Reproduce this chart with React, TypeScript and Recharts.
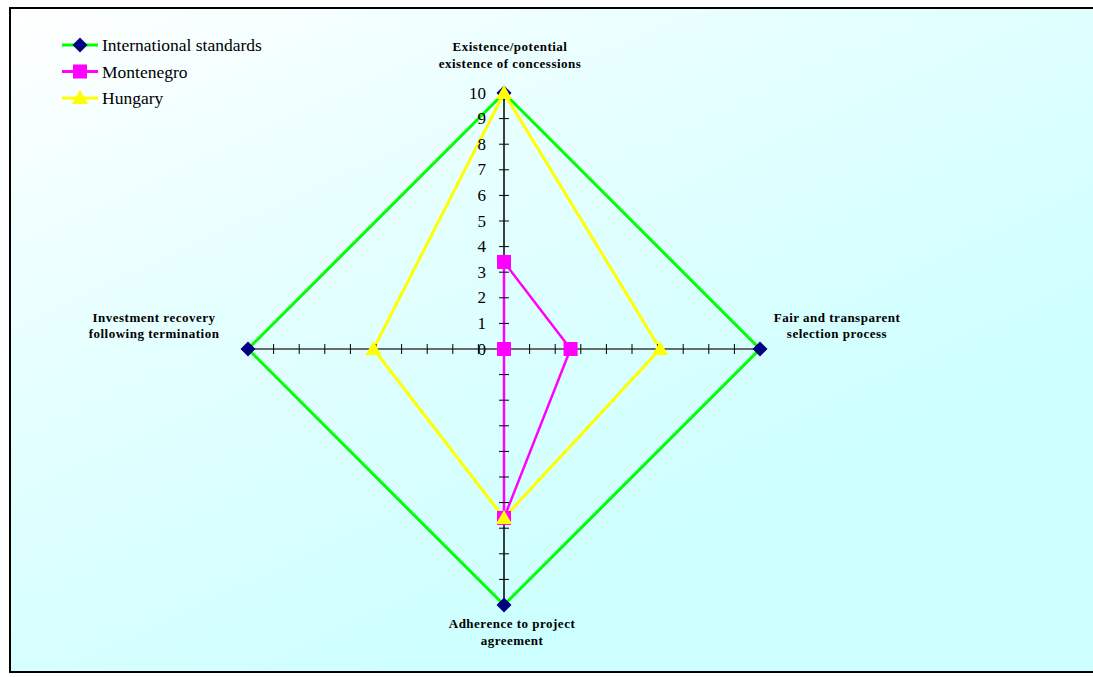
import React from 'react';
import { RadarChart, Radar, PolarAngleAxis, PolarRadiusAxis, PolarGrid, Legend } from 'recharts';

const categories = [
  'Existence/potential existence of concessions',
  'Fair and transparent selection process',
  'Adherence to project agreement',
  'Investment recovery following termination',
];
const categoryLines = [
  ['Existence/potential', 'existence of concessions'],
  ['Fair and transparent', 'selection process'],
  ['Adherence to project', 'agreement'],
  ['Investment recovery', 'following termination'],
];
const internationalStandards = [10, 10, 10, 10];
const montenegro = [3.4, 2.6, 6.6, 0];
const hungary = [10, 6.1, 6.6, 5.1];
const radiusTicks = [0, 1, 2, 3, 4, 5, 6, 7, 8, 9, 10];

const seriesNames = ['International standards', 'Montenegro', 'Hungary'];

const data = categories.map((c, i) => ({
  category: c,
  intl: internationalStandards[i],
  mne: montenegro[i],
  hun: hungary[i],
}));

const SERIF = '"Liberation Serif", "Times New Roman", Times, serif';

const Diamond = (cx: number, cy: number, key?: any) => (
  <polygon key={key} points={`${cx},${cy - 7.5} ${cx + 7.5},${cy} ${cx},${cy + 7.5} ${cx - 7.5},${cy}`} fill="#000080" />
);
const Square = (cx: number, cy: number, key?: any) => (
  <rect key={key} x={cx - 7} y={cy - 7} width={14} height={14} fill="#ff00ff" />
);
const Triangle = (cx: number, cy: number, key?: any) => (
  <polygon key={key} points={`${cx},${cy - 8} ${cx + 8},${cy + 6} ${cx - 8},${cy + 6}`} fill="#ffff00" />
);

const dotOf = (fn: any) => (props: any) => {
  const { cx, cy, index } = props;
  return fn(cx, cy, `d-${index}`);
};

// offsets of the two label lines relative to the angle-axis tick point, per direction
const labelOffsets = [
  { dx: 6, dy: [-39, -22] },
  { dx: 69, dy: [-32, -16] },
  { dx: 8, dy: [10, 27] },
  { dx: -86, dy: [-32, -16] },
];

const AngleTick = (props: any) => {
  const { x, y, index } = props;
  const lines = categoryLines[index] || [];
  const off = labelOffsets[index];
  return (
    <g>
      {lines.map((l: string, i: number) => (
        <text
          key={i}
          x={x + off.dx}
          y={y + off.dy[i]}
          textAnchor="middle"
          dominantBaseline="central"
          style={{ fontFamily: SERIF, fontWeight: 'bold', fontSize: 13, letterSpacing: 0.5 }}
          fill="#000"
        >
          {l}
        </text>
      ))}
    </g>
  );
};

// Labeled ticks on the upward axis; the same scale radius is mirrored onto the other three spokes.
const RadiusTick = (props: any) => {
  const { x, y, cx, cy, payload, index } = props;
  const r = cy - y;
  return (
    <g>
      <line x1={x - 5} x2={x + 5} y1={y} y2={y} stroke="#000" strokeWidth={1} />
      {index > 0 && (
        <>
          <line x1={cx - 5} x2={cx + 5} y1={cy + r} y2={cy + r} stroke="#000" strokeWidth={1} />
          <line x1={cx + r} x2={cx + r} y1={cy - 5} y2={cy + 5} stroke="#000" strokeWidth={1} />
          <line x1={cx - r} x2={cx - r} y1={cy - 5} y2={cy + 5} stroke="#000" strokeWidth={1} />
        </>
      )}
      <text
        x={x - 18}
        y={y}
        textAnchor="end"
        dominantBaseline="central"
        style={{ fontFamily: SERIF, fontSize: 17 }}
        fill="#000"
      >
        {payload.value}
      </text>
    </g>
  );
};

const markers = [Diamond, Square, Triangle];
const colors = ['#00ff00', '#ff00ff', '#ffff00'];

const LegendContent = () => (
  <svg width={280} height={80} style={{ display: 'block' }}>
    {seriesNames.map((n, i) => {
      const cy = 10 + i * 26.5;
      return (
        <g key={n}>
          <line x1={2} x2={38} y1={cy} y2={cy} stroke={colors[i]} strokeWidth={3} />
          {markers[i](20, cy)}
          <text x={42} y={cy} dominantBaseline="central" style={{ fontFamily: SERIF, fontSize: 17.5 }} fill="#000">
            {n}
          </text>
        </g>
      );
    })}
  </svg>
);

export default function App() {
  const CX = 493;
  const CY = 340;
  const R = 256;
  return (
    <div
      style={{
        position: 'absolute',
        left: 9,
        top: 7,
        width: 1084,
        height: 666,
        borderTop: '2px solid #000',
        borderLeft: '2px solid #000',
        borderBottom: '2px solid #000',
        boxSizing: 'border-box',
        overflow: 'hidden',
        background: 'linear-gradient(155deg, #ffffff 0%, #e4ffff 35%, #ccffff 75%)',
      }}
    >
      <RadarChart
        width={1082}
        height={662}
        data={data}
        cx={CX}
        cy={CY}
        outerRadius={R}
        margin={{ top: 0, right: 0, bottom: 0, left: 0 }}
      >
        <PolarGrid gridType="polygon" polarRadius={[]} polarAngles={[0, 180]} stroke="#6b6b6b" strokeWidth={2} strokeOpacity={1} />
        <PolarGrid gridType="polygon" polarRadius={[]} polarAngles={[90, 270]} stroke="#000" strokeWidth={1.5} strokeOpacity={1} />
        <PolarAngleAxis dataKey="category" tick={AngleTick} axisLine={false} tickLine={false} />
        <PolarRadiusAxis
          angle={90}
          domain={[0, 10]}
          tickCount={11}
          ticks={radiusTicks as any}
          tick={RadiusTick}
          axisLine={false}
          tickLine={false}
        />
        <Radar name={seriesNames[0]} dataKey="intl" stroke="#00ff00" strokeWidth={3} fill="none" fillOpacity={0} dot={dotOf(Diamond)} isAnimationActive={false} />
        <Radar name={seriesNames[1]} dataKey="mne" stroke="#ff00ff" strokeWidth={2.5} fill="none" fillOpacity={0} dot={dotOf(Square)} isAnimationActive={false} />
        <Radar name={seriesNames[2]} dataKey="hun" stroke="#ffff00" strokeWidth={3} fill="none" fillOpacity={0} dot={dotOf(Triangle)} isAnimationActive={false} />
        <Legend layout="vertical" align="center" verticalAlign="middle" content={LegendContent} wrapperStyle={{ position: 'absolute', left: 49, top: 26, width: 280 }} />
      </RadarChart>
    </div>
  );
}
